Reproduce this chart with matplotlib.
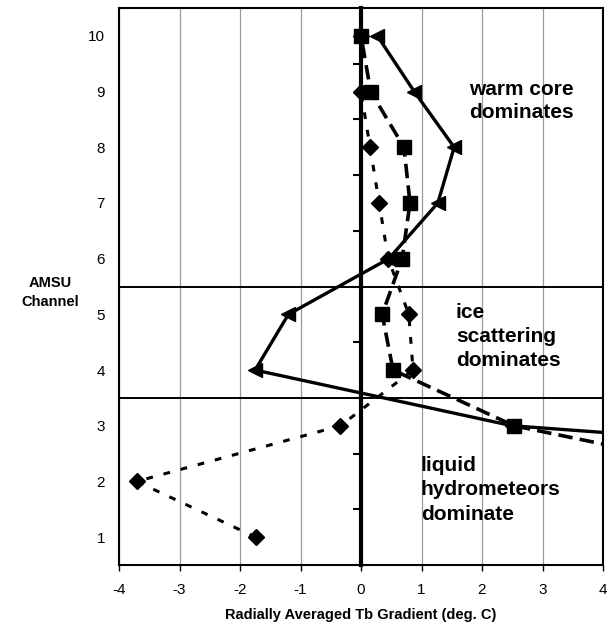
import numpy as np
import matplotlib
matplotlib.use("Agg")
import matplotlib.pyplot as plt

plt.rcParams["font.family"] = ["Liberation Sans", "DejaVu Sans"]
plt.rcParams["axes.unicode_minus"] = False

channels = [1, 2, 3, 4, 5, 6, 7, 8, 9, 10]
# radially averaged Tb gradient per channel (deg C), NaN = not plotted
tri_vals = [np.nan, 15.0, 2.5, -1.75, -1.2, 0.46, 1.27, 1.54, 0.88, 0.27]
sq_vals = [np.nan, 7.0, 2.53, 0.53, 0.35, 0.68, 0.81, 0.71, 0.16, 0.0]
dia_vals = [-1.74, -3.71, -0.34, 0.86, 0.79, 0.45, 0.30, 0.15, 0.0, 0.0]

regime_bounds = [3.5, 5.5]
x_ticks = [-4, -3, -2, -1, 0, 1, 2, 3, 4]
half_ticks = [1.5, 2.5, 3.5, 4.5, 5.5, 6.5, 7.5, 8.5, 9.5]

fig = plt.figure(figsize=(6.14, 6.34), dpi=100)
ax = fig.add_axes([119 / 614, 1 - 565 / 634, 484 / 614, 557 / 634])

ax.plot(tri_vals, channels, color="black", lw=2.4, marker="<", ms=10, zorder=3)
ax.plot(sq_vals, channels, color="black", lw=2.6, marker="s", ms=9.5,
        dashes=(4, 2), zorder=4)
ax.plot(dia_vals, channels, color="black", lw=2.2, marker="D", ms=8,
        dashes=(2.2, 3.6), zorder=5)

for b in regime_bounds:
    ax.axhline(b, color="black", lw=1.4, zorder=2)

ax.set_xlim(-4, 4)
ax.set_ylim(0.5, 10.5)
ax.set_xticks(x_ticks)
ax.set_yticks(channels)
ax.grid(axis="x", color="#9a9a9a", lw=0.9)
ax.tick_params(axis="x", length=4, width=1, pad=9, labelsize=11)
ax.tick_params(axis="y", length=0, pad=10, labelsize=11)
for s in ax.spines.values():
    s.set_linewidth(1.5)

# zero line with half-channel ticks
zero_ax = ax.secondary_yaxis(0.5)
zero_ax.set_yticks(half_ticks)
zero_ax.set_yticklabels([])
zero_ax.tick_params(direction="in", length=6, width=1.5)
zero_ax.spines["right"].set_linewidth(3)
zero_ax.set_zorder(2.5)

ax.set_xlabel("Radially Averaged Tb Gradient (deg. C)", fontsize=10.5,
              fontweight="bold", va="center")
ax.xaxis.set_label_coords(0.5, -0.09)
ax.set_ylabel("AMSU\nChannel", fontsize=10.5, fontweight="bold", rotation=0,
              ha="center", va="center", linespacing=1.45)
ax.yaxis.set_label_coords(-0.1426, 0.49)

ax.text(1.79, 8.83, "warm core\ndominates", fontsize=15, fontweight="bold",
        ha="left", va="center", linespacing=1.3)
ax.text(1.57, 4.60, "ice\nscattering\ndominates", fontsize=15, fontweight="bold",
        ha="left", va="center", linespacing=1.35)
ax.text(0.99, 1.85, "liquid\nhydrometeors\ndominate", fontsize=15,
        fontweight="bold", ha="left", va="center", linespacing=1.35)

fig.savefig("out.png", dpi=100)
